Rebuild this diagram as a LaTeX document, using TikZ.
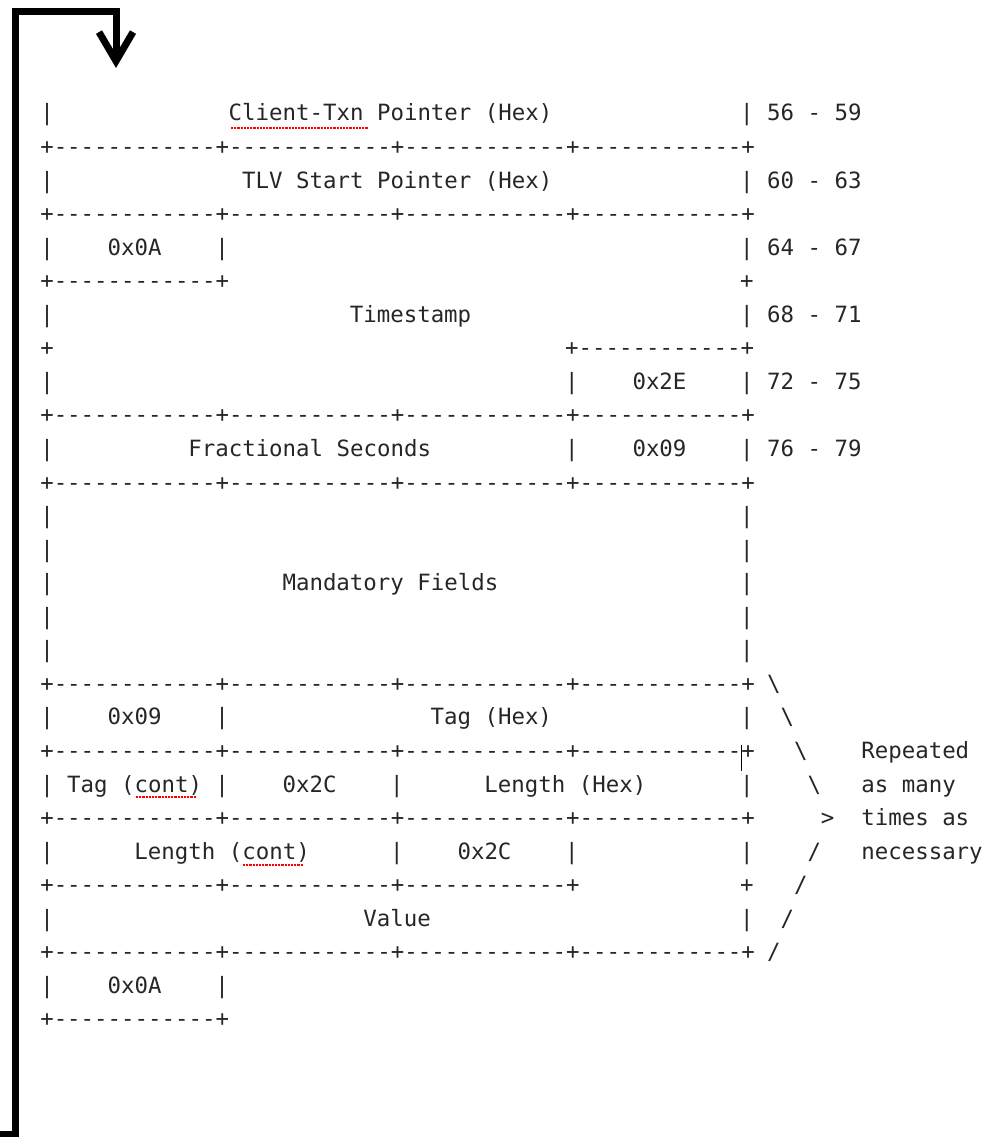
\documentclass[tikz,border=0pt]{standalone}
\usepackage{fontspec}
\setmonofont{DejaVu Sans Mono}
\usetikzlibrary{arrows.meta}

% one piece of the ascii layout: name, column, row, text
\newcommand\asc[4]{\node[asc] (#1) at ({40.27+13.46*#2},{121+33.55*#3}) {#4};}

\begin{document}
\begin{tikzpicture}[x=1pt,y=-1pt,
  asc/.style={anchor=base west,inner sep=0pt,outer sep=0pt,text=black!85,
    font=\ttfamily\fontsize{22.4}{26}\selectfont},
  backarrow/.style={line width=7pt,-{Straight Barb[length=29pt,width=34pt]}},
  spellmark/.style={draw=red,line width=2.2pt,densely dotted}]
\useasboundingbox (0,0) rectangle (994,1137);
% full separator lines
\foreach \rw in {1,3,9,11,17,19,21,25}
  {\asc{sep\rw}{0}{\rw}{+------------+------------+------------+------------+}}
% outer walls
\foreach \rw in {0,2,4,6,8,10,12,13,14,15,16,18,20,22,24,26}
  {\asc{lw\rw}{0}{\rw}{|}}
\foreach \rw in {0,2,4,6,8,10,12,13,14,15,16,18,20,22,24}
  {\asc{rw\rw}{52}{\rw}{|}}
% byte offsets
\foreach \rw/\lo/\hi in {0/56/59,2/60/63,4/64/67,6/68/71,8/72/75,10/76/79}
  {\asc{off\rw}{54}{\rw}{\lo{} - \hi}}
% header fields
\asc{ctp}{14}{0}{Client-Txn Pointer (Hex)}
\asc{tlv}{15}{2}{TLV Start Pointer (Hex)}
\asc{nl1}{5}{4}{0x0A}
\asc{nl1r}{13}{4}{|}
\asc{nl1b}{0}{5}{+------------+}
\asc{ts5}{52}{5}{+}
\asc{ts}{23}{6}{Timestamp}
\asc{ts7l}{0}{7}{+}
\asc{ts7r}{39}{7}{+------------+}
\asc{dt1l}{39}{8}{|}
\asc{dt1}{44}{8}{0x2E}
\asc{frac}{11}{10}{Fractional Seconds}
\asc{tab1l}{39}{10}{|}
\asc{tab1}{44}{10}{0x09}
\asc{mand}{18}{14}{Mandatory Fields}
% repeated tlv block
\asc{tab2}{5}{18}{0x09}
\asc{tab2r}{13}{18}{|}
\asc{tag}{29}{18}{Tag (Hex)}
\asc{tagc}{2}{20}{Tag (cont)}
\asc{tagcr}{13}{20}{|}
\asc{com1}{18}{20}{0x2C}
\asc{com1r}{26}{20}{|}
\asc{len}{33}{20}{Length (Hex)}
\asc{lenc}{7}{22}{Length (cont)}
\asc{lencr}{26}{22}{|}
\asc{com2}{31}{22}{0x2C}
\asc{com2r}{39}{22}{|}
\asc{val23}{0}{23}{+------------+------------+------------+}
\asc{val23r}{52}{23}{+}
\asc{val}{24}{24}{Value}
\asc{nl2}{5}{26}{0x0A}
\asc{nl2r}{13}{26}{|}
\asc{nl2b}{0}{27}{+------------+}
% brace of slashes and note
\foreach \rw/\cl in {17/54,18/55,19/56,20/57}
  {\asc{bs\rw}{\cl}{\rw}{\textbackslash}}
\asc{gt21}{58}{21}{>}
\foreach \rw/\cl in {22/57,23/56,24/55,25/54}
  {\asc{fs\rw}{\cl}{\rw}{/}}
\asc{rep1}{61}{19}{Repeated}
\asc{rep2}{61}{20}{as many}
\asc{rep3}{61}{21}{times as}
\asc{rep4}{61}{22}{necessary}
% spell checker marks and cursor
\path[spellmark] (231,128) -- (368,128);
\path[spellmark] (136,797) -- (196,797);
\path[spellmark] (243,865) -- (303,865);
\path[draw,line width=1.5pt] (741.5,745) -- (741.5,771);
% loop back arrow
\coordinate (entry) at (0,1134);
\coordinate (start) at (116,68);
\draw[backarrow] (entry) -| (15,12) -| (start);
\end{tikzpicture}
\end{document}
